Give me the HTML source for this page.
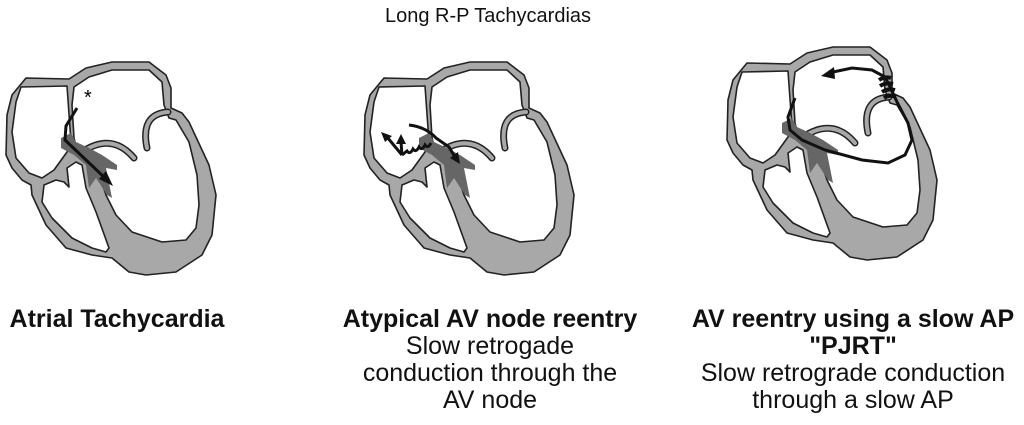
<!DOCTYPE html>
<html><head><style>
body{margin:0;width:1024px;height:425px;background:#fff;overflow:hidden;font-family:"Liberation Sans",sans-serif;position:relative}
.t{position:absolute;text-align:center;font-size:25px;line-height:27px;color:#111}
b{font-weight:bold}
</style></head><body>
<svg width="1024" height="425" style="position:absolute;left:0;top:0">
<defs>
<g id="h" stroke="#222" stroke-width="1.6" stroke-linejoin="round" fill="none">
<path d="M373,115 L378,95 L392,78 L435,79 L452,68 L478,62 L515,62 L532,75 L537,88 L537,108 L548,113 L555,122 L575,165 L582,195 L578,235 L568,255 L542,272 L512,275 L495,272 L478,258 L458,255 L432,248 L412,225 L398,195 L397,185 L388,180 L378,168 L372,155 Z" fill="#a8a8a8"/>
<path d="M387,87 L433,86 L437,142 L433,152 L420,170 L408,178 L395,173 L382,158 L378,132 L382,102 Z" fill="#fff"/>
<path d="M440,87 L455,77 L478,70 L515,70 L528,82 L530,105 L535,118 L542,120 L555,142 L563,175 L565,205 L562,228 L552,240 L528,242 L498,232 L482,215 L472,195 L462,165 L455,152 L443,150 L440,138 L438,105 Z" fill="#fff"/>
<path d="M410,185 L422,180 L430,182 L435,187 L433,168 L442,162 L448,165 L452,188 L462,212 L475,248 L472,252 L458,248 L438,238 L418,218 L408,202 Z" fill="#fff"/>
<path d="M448,152 Q478,132 500,158" stroke="#222" stroke-width="7" stroke-linecap="round"/>
<path d="M448,152 Q478,132 500,158" stroke="#a8a8a8" stroke-width="4" stroke-linecap="round"/>
<path d="M534,112 Q506,114 513,148" stroke="#222" stroke-width="7" stroke-linecap="round"/>
<path d="M534,112 Q506,114 513,148" stroke="#a8a8a8" stroke-width="4" stroke-linecap="round"/>
<path d="M427,138 L437,133 L442,142 L455,148 L468,155 L483,165 L483,170 L472,168 L478,198 L473,195 L462,178 L455,188 L452,165 L440,155 L427,148 Z" fill="#666" stroke="none"/>
</g>
</defs>
<use href="#h" transform="translate(-366,0)"/>
<use href="#h" transform="translate(-8,0)"/>
<use href="#h" transform="translate(355,-15)"/>
<!-- left arrow -->
<path d="M77,108 L66,126 L65,140 L105,178" fill="none" stroke="#111" stroke-width="3"/>
<path d="M113,186 L99,179 L106,171 Z" fill="#111"/>
<text x="84" y="104" font-size="20" font-family="Liberation Sans">*</text>
<!-- middle arrows -->
<g transform="translate(-6,0)">
<path d="M415,125 Q432,127 442,138 L455,147 L461,157" fill="none" stroke="#111" stroke-width="3"/>
<path d="M466,164 L456,158 L464,152 Z" fill="#111"/>
<path d="M437,143 q-3,6 -6,2 q-3,6 -6,2 q-3,6 -6,2 q-3,6 -6,2 L408,155" fill="none" stroke="#111" stroke-width="3"/>
<path d="M408,155 L407,142 M408,155 L393,137" fill="none" stroke="#111" stroke-width="3"/>
<path d="M407,134 L402,144 L412,144 Z M387,132 L391,142 L398,136 Z" fill="#111"/>
</g>
<!-- right loop -->
<g transform="translate(-5,0)">
<path d="M800,98 L793,117 L795,130 L807,140 L830,150 L867,160 L893,163 L910,155 L917,140 L913,123 L902,102 L895,87 L890,77 L877,70 L857,68 L838,72" fill="none" stroke="#111" stroke-width="3"/>
<path d="M826,76 L839,67 L840,79 Z" fill="#111"/>
<path d="M884,80 q6,-4 12,-2 M885,86 q6,-4 13,-2 M887,92 q6,-4 13,-2 M889,98 q6,-4 12,-1" fill="none" stroke="#111" stroke-width="4"/>
</g>
</svg>
<div class="t" style="left:288px;top:3px;width:400px;font-size:20px">Long R-P Tachycardias</div>
<div class="t" style="left:0;top:306px;width:234px"><b>Atrial Tachycardia</b></div>
<div class="t" style="left:320px;top:306px;width:340px"><b>Atypical AV node reentry</b><br>Slow retrogade<br>conduction through the<br>AV node</div>
<div class="t" style="left:673px;top:306px;width:360px"><b>AV reentry using a slow AP<br>"PJRT"</b><br>Slow retrograde conduction<br>through a slow AP</div>
</body></html>
